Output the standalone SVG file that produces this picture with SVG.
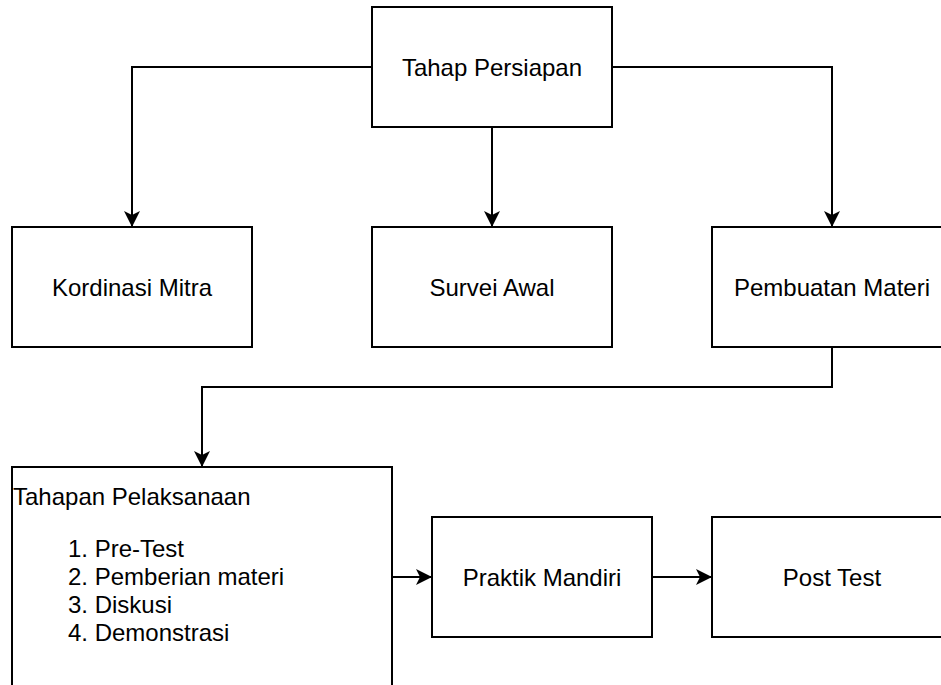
<svg xmlns="http://www.w3.org/2000/svg" width="941" height="685" viewBox="0 0 941 685">
<defs>
<style>
.box{fill:#fff;stroke:#000;stroke-width:2}
.edge{fill:none;stroke:#000;stroke-width:2}
.t{font-family:"Liberation Sans",Arial,sans-serif;font-size:24px;fill:#000}
.c{text-anchor:middle}
</style>
<marker id="arr" markerUnits="userSpaceOnUse" markerWidth="22" markerHeight="22" viewBox="-18 -11 22 22" refX="0" refY="0" orient="auto">
<path d="M0,0 L-16,-8 L-12,0 L-16,8 Z" fill="#000"/>
</marker>
</defs>
<rect width="941" height="685" fill="#fff"/>
<g id="connectors">
<path class="edge" d="M372,67 H132 V227" marker-end="url(#arr)"/>
<path class="edge" d="M492,127 V227" marker-end="url(#arr)"/>
<path class="edge" d="M612,67 H832 V227" marker-end="url(#arr)"/>
<path class="edge" d="M832,347 V387 H202 V467" marker-end="url(#arr)"/>
<path class="edge" d="M392,577 H432" marker-end="url(#arr)"/>
<path class="edge" d="M652,577 H712" marker-end="url(#arr)"/>
</g>
<g id="tahap-persiapan">
<rect class="box" x="372" y="7" width="240" height="120"/>
<text class="t c" x="492" y="75.5">Tahap Persiapan</text>
</g>
<g id="kordinasi-mitra">
<rect class="box" x="12" y="227" width="240" height="120"/>
<text class="t c" x="132" y="295.5">Kordinasi Mitra</text>
</g>
<g id="survei-awal">
<rect class="box" x="372" y="227" width="240" height="120"/>
<text class="t c" x="492" y="295.5">Survei Awal</text>
</g>
<g id="pembuatan-materi">
<rect class="box" x="712" y="227" width="240" height="120"/>
<text class="t c" x="832" y="295.5">Pembuatan Materi</text>
</g>
<g id="tahapan-pelaksanaan">
<rect class="box" x="12" y="467" width="380" height="240"/>
<text class="t" x="13" y="505">Tahapan Pelaksanaan</text>
<text class="t" x="68" y="557">1. Pre-Test</text>
<text class="t" x="68" y="585">2. Pemberian materi</text>
<text class="t" x="68" y="613">3. Diskusi</text>
<text class="t" x="68" y="641">4. Demonstrasi</text>
</g>
<g id="praktik-mandiri">
<rect class="box" x="432" y="517" width="220" height="120"/>
<text class="t c" x="542" y="585.5">Praktik Mandiri</text>
</g>
<g id="post-test">
<rect class="box" x="712" y="517" width="240" height="120"/>
<text class="t c" x="832" y="585.5">Post Test</text>
</g>
</svg>
